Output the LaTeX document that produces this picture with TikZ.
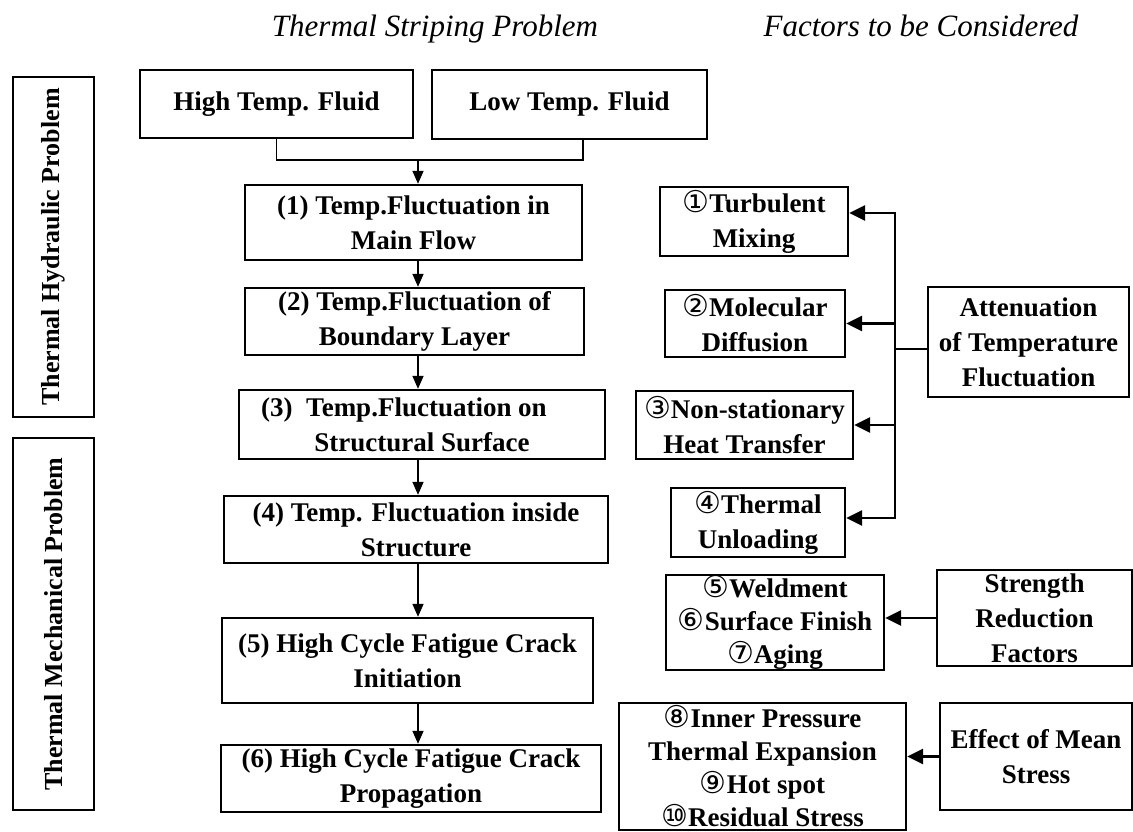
\documentclass[tikz,border=0pt]{standalone}
\usepackage{fontspec}
\setmainfont{Liberation Serif}
\newfontfamily\circfont{DejaVu Sans}
\newcommand{\cn}[1]{{\circfont\mdseries\fontsize{30}{30}\selectfont #1}}
\usepackage{tikz}
\usetikzlibrary{calc}
\usetikzlibrary{arrows.meta, positioning}

\begin{document}
\begin{tikzpicture}[>={Triangle[length=13pt, width=11pt]}, x=1pt, y=-1pt]
	\useasboundingbox (0,0) rectangle (1133,832);
	
	% ------------------------------------------------------------------
	% STYLE DEFINITIONS
	% ------------------------------------------------------------------
	\tikzset{
		box/.style     = {draw, line width=2.4pt, align=center, inner sep=0pt,
		                  font=\bfseries\fontsize{27}{35}\selectfont},
		sidebox/.style = {box, rotate=90, font=\bfseries\fontsize{26}{30}\selectfont},
		listbox/.style = {box, font=\bfseries\fontsize{27}{33}\selectfont},
		title/.style   = {anchor=base, font=\itshape\fontsize{31}{31}\selectfont},
		flow/.style    = {line width=1.6pt, ->},
		wire/.style    = {line width=2.6pt},
		feed/.style    = {wire, -{Triangle[length=16pt, width=15pt]}},
	}
	
	% ------------------------------------------------------------------
	% HEADINGS
	% ------------------------------------------------------------------
	\node[title] (T1) at (435,37) {Thermal Striping Problem};
	\node[title] (T2) at (921,37) {Factors to be Considered};
	
	% ------------------------------------------------------------------
	% SIDE LABELS
	% ------------------------------------------------------------------
	\node[sidebox, minimum width=340pt, minimum height=81pt] (TH) at (53.5,247) {Thermal Hydraulic Problem};
	\node[sidebox, minimum width=372pt, minimum height=81pt] (TM) at (53.5,624) {Thermal Mechanical Problem};
	
	% ------------------------------------------------------------------
	% MAIN CHAIN
	% ------------------------------------------------------------------
	\node[box, minimum width=273pt, minimum height=68pt] (HT) at (276.5,104) {High Temp. Fluid};
	\node[box, minimum width=275pt, minimum height=69pt] (LT) at (569.5,104.5) {Low Temp. Fluid};
	
	\node[box, minimum width=337pt, minimum height=75pt] (S1) at (413.5,222.5) {(1) Temp.Fluctuation in\\Main Flow};
	\node[box, minimum width=339pt, minimum height=67pt] (S2) at (414.5,321.5) {(2) Temp.Fluctuation of\\Boundary Layer};
	\node[box, minimum width=366pt, minimum height=69pt] (S3) at (422,424.5) {(3)~~Temp.Fluctuation on\hspace*{36pt}\\Structural Surface};
	\node[box, minimum width=384pt, minimum height=67pt] (S4) at (416,529.5) {(4) Temp. Fluctuation inside\\Structure};
	\node[box, minimum width=371pt, minimum height=85pt] (S5) at (407.5,660.5) {(5) High Cycle Fatigue Crack\\Initiation};
	\node[box, minimum width=380pt, minimum height=67pt] (S6) at (411,778.5) {(6) High Cycle Fatigue Crack\\Propagation};
	
	\coordinate (J) at (418,160);   % where both fluids meet
	\draw[line width=1.6pt] (HT.south) |- (J) -| ([xshift=13.5pt]LT.south);
	\draw[flow] (J) -- (J |- S1.north);
	\draw[flow] (S1.south -| J) -- (S2.north -| J);
	\draw[flow] (S2.south -| J) -- (S3.north -| J);
	\draw[flow] (S3.south -| J) -- (S4.north -| J);
	\draw[flow] (S4.south -| J) -- (S5.north -| J);
	\draw[flow] (S5.south -| J) -- (S6.north -| J);
	
	% ------------------------------------------------------------------
	% FACTORS
	% ------------------------------------------------------------------
	\node[box, minimum width=188pt, minimum height=69pt] (F1) at (754,221.5) {\cn{①}Turbulent\\Mixing};
	\node[box, minimum width=180pt, minimum height=67pt] (F2) at (755,323.5) {\cn{②}Molecular\\Diffusion};
	\node[box, minimum width=217pt, minimum height=68pt] (F3) at (744.5,425) {\cn{③}Non-stationary\\Heat Transfer};
	\node[box, minimum width=174pt, minimum height=69pt] (F4) at (758,522.5) {\cn{④}Thermal\\Unloading};
	\node[box, minimum width=201pt, minimum height=110pt] (AT) at (1028.5,342) {Attenuation\\of Temperature\\Fluctuation};
	
	\node[listbox, minimum width=218pt, minimum height=95pt] (F5) at (775,622.5) {\cn{⑤}Weldment\\\cn{⑥}Surface Finish\\\cn{⑦}Aging};
	\node[box, minimum width=195pt, minimum height=96pt] (SR) at (1034.5,618) {Strength\\Reduction\\Factors};
	
	\node[listbox, minimum width=287pt, minimum height=127pt] (F8) at (762.5,766.5) {\cn{⑧}Inner Pressure\\Thermal Expansion\\\cn{⑨}Hot spot\\\cn{⑩}Residual Stress};
	\node[box, minimum width=192pt, minimum height=107pt] (ME) at (1036,756.5) {Effect of Mean\\Stress};
	
	% attenuation branches
	\coordinate (AJ) at (895,349);
	\draw[wire] ([yshift=-7pt]AT.west) -- (AJ);
	\draw[feed] (AJ) |- ([yshift=8.5pt]F1.east);
	\draw[feed] (AJ) |- ([yshift=4.5pt]F4.east);
	\draw[feed] (AJ |- F2.east) -- (F2.east);
	\draw[feed] (AJ |- F3.east) -- (F3.east);
	
	% reduction and mean stress
	\draw[feed] (SR.west) -- (F5.east |- SR.west);
	\draw[feed] (ME.west) -- (F8.east |- ME.west);
	
\end{tikzpicture}
\end{document}
